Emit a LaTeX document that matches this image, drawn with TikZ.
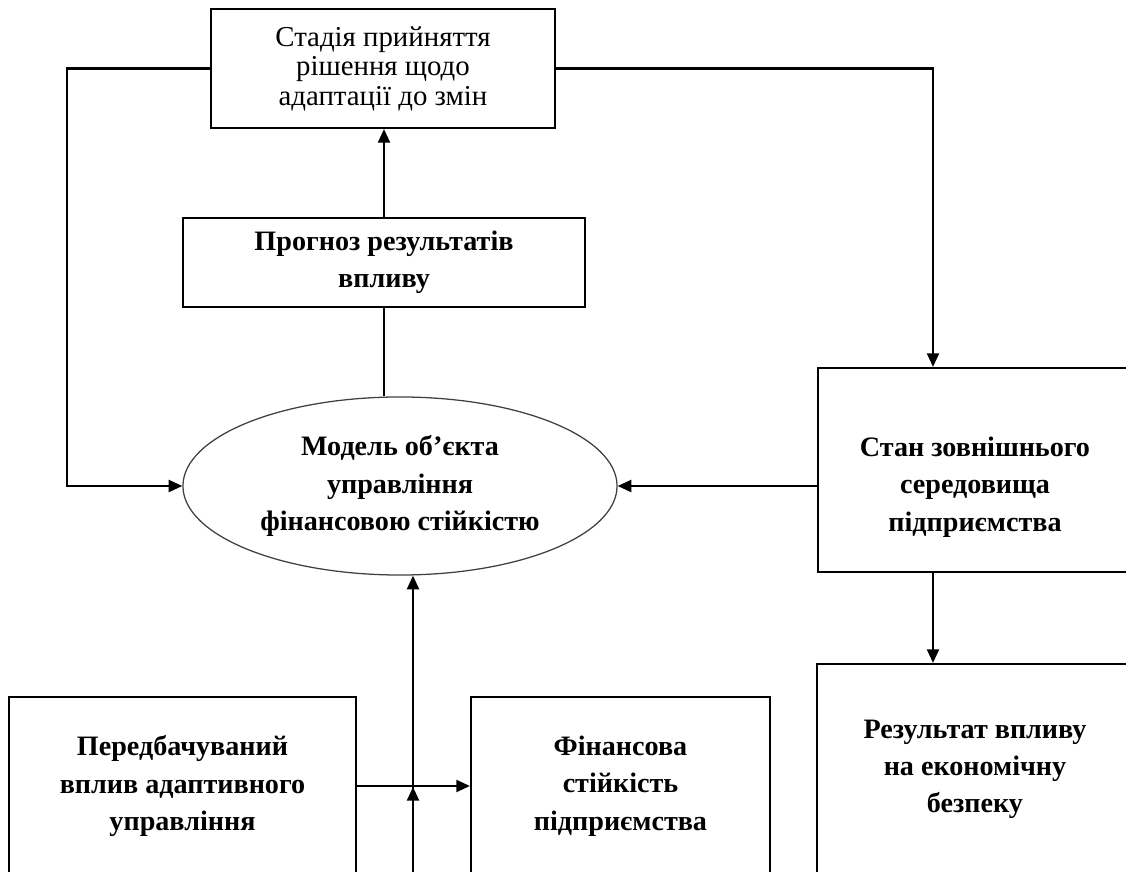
\documentclass[tikz,border=0pt]{standalone}
\usepackage{fontspec}
\setmainfont{Liberation Serif}
\usetikzlibrary{shapes, arrows.meta}

\begin{document}
\begin{tikzpicture}[x=0.025cm, y=-0.025cm,
block/.style={rectangle, draw=black, line width=1.5pt, align=center, inner sep=0pt,
font=\bfseries\fontsize{20}{26.5}\selectfont},
block-top/.style={block, font=\fontsize{20.5}{21}\selectfont},
oval/.style={ellipse, draw=black!75, line width=0.9pt, align=center, inner sep=0pt,
font=\bfseries\fontsize{20}{26.5}\selectfont},
blank/.style={align=center, inner sep=0pt, font=\bfseries\fontsize{20}{26.5}\selectfont},
line/.style={draw, line width=1.5pt, -{Triangle[length=0.34cm, width=0.3cm]}},
link/.style={draw, line width=1.5pt}
]
\clip (0,0) rectangle (1126,872);
\useasboundingbox (0,0) rectangle (1126,872);

\node [block-top, minimum width=8.6cm, minimum height=2.975cm] (stage) at (383,68.5)
  {Стадія прийняття\\рішення щодо\\адаптації до змін};
\node [block, minimum width=10.05cm, minimum height=2.225cm] (prog) at (384,262.5)
  {Прогноз результатів\\впливу};
\node [oval, minimum width=10.85cm, minimum height=4.45cm] (model) at (400,486)
  {Модель об’єкта\\управління\\фінансовою стійкістю};

\node [block, minimum width=7.85cm, minimum height=5.1cm] (state) at (975,470) {};
\node [blank] (state-text) at (975,487) {Стан зовнішнього\\середовища\\підприємства};
\node [block, minimum width=7.9cm, minimum height=5.275cm] (res) at (975,769.5)
  {Результат впливу\\на економічну\\безпеку};

\node [block, minimum width=8.675cm, minimum height=4.45cm] (pred) at (182.5,786)
  {Передбачуваний\\вплив адаптивного\\управління};
\node [block, minimum width=7.475cm, minimum height=4.45cm] (fin) at (620.5,786)
  {Фінансова\\стійкість\\підприємства};

\coordinate (tap) at (933,0);
\coordinate (bot) at (413,880);
\coordinate (mid) at (413,787);

% feedback loops round the model
\path [line] (stage.west) -- ++(-143,0) |- (model.west);
\path [line] (stage.east) -| (tap |- state.north);
\path [line] (prog.north) -- (prog.north |- stage.south);
\path [link] (model.north -| prog.south) -- (prog.south);
\path [line] (state.west |- model.east) -- (model.east);
\path [line] (tap |- state.south) -- (tap |- res.north);

% bottom inputs
\path [line] (pred.east |- fin.west) -- (fin.west);
\path [line] (bot) -- (bot |- model.south);
\path [line] (bot) -- (mid);

\end{tikzpicture}
\end{document}
